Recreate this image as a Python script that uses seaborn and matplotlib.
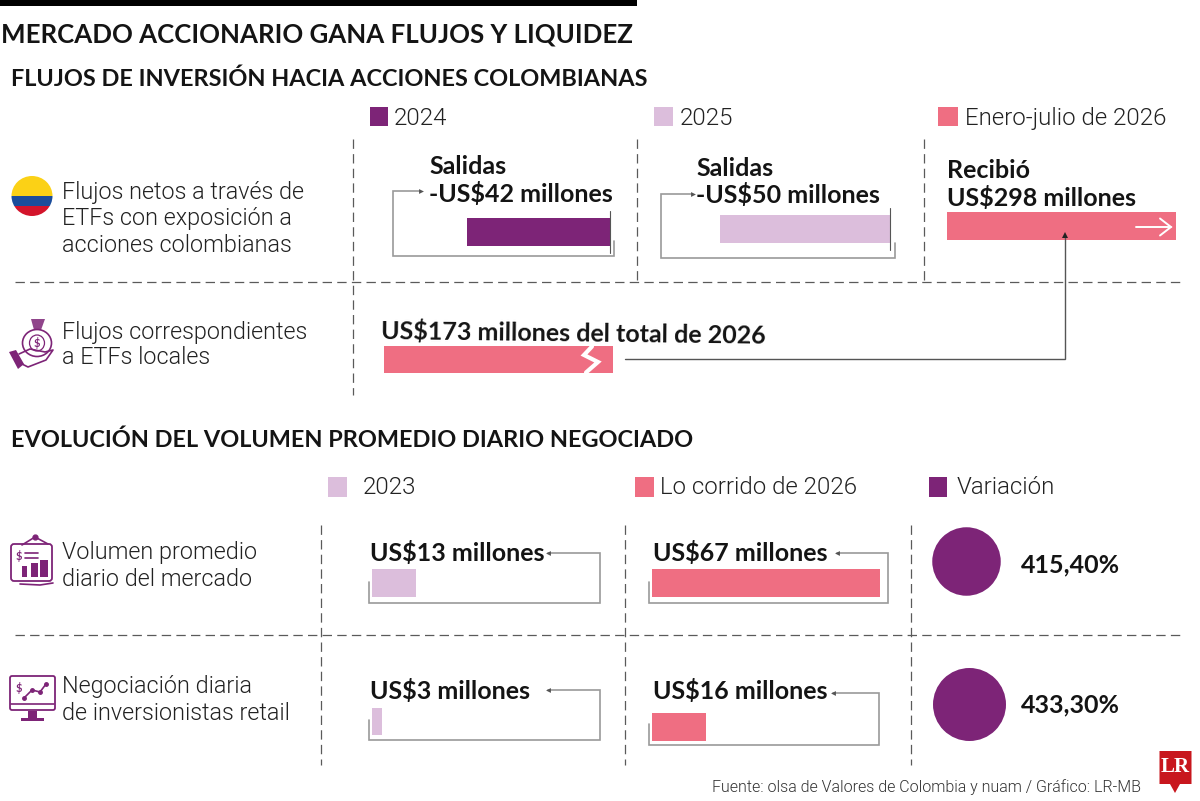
import matplotlib
matplotlib.use("Agg")
import matplotlib.pyplot as plt
import seaborn as sns
from matplotlib.patches import Rectangle, Ellipse, Polygon, FancyBboxPatch

sns.set_theme(style="white")
plt.rcParams["font.family"] = ["Lato", "DejaVu Sans"]

# ---- data (US$ millions) ----
FLOW_PERIODS = ["2024", "2025", "Enero-julio de 2026"]
FLOW_VALUES = [-42, -50, 298]
LOCAL_ETF_VALUE = 173
VOLUME_PERIODS = ["2023", "Lo corrido de 2026", "Variación"]
MARKET_VOLUME = [13, 67]
RETAIL_VOLUME = [3, 16]
VARIATION = [415.40, 433.30]
ROW_LABELS_FLOW = [["Flujos netos a través de", "ETFs con exposición a", "acciones colombianas"],
                   ["Flujos correspondientes", "a ETFs locales"]]
ROW_LABELS_VOL = [["Volumen promedio", "diario del mercado"],
                  ["Negociación diaria", "de inversionistas retail"]]

PURPLE, LILAC, PINK = "#7d2477", "#dcbedc", "#ef6e82"
INK, GREY, DARK = "#141414", "#9a9a9a", "#555555"
W, H = 1200, 801
PX_PER_UNIT = 3.4
WINDOW = 229

fig = plt.figure(figsize=(W / 100, H / 100), dpi=100, facecolor="white")
ov = fig.add_axes([0, 0, 1, 1], zorder=5)
ov.set_xlim(0, W); ov.set_ylim(H, 0); ov.axis("off"); ov.patch.set_alpha(0)


def bar(value, color, zero_px, top, bottom, name):
    left = zero_px - WINDOW if value < 0 else zero_px
    a = fig.add_axes([left / W, 1 - bottom / H, WINDOW / W, (bottom - top) / H], zorder=2)
    sns.barplot(x=[value], y=[name], color=color, saturation=1, width=1, linewidth=0, orient="h", ax=a)
    a.set_xlim((left - zero_px) / PX_PER_UNIT, (left + WINDOW - zero_px) / PX_PER_UNIT)
    a.set_ylim(0.5, -0.5)
    a.axis("off")
    a.patch.set_alpha(0)


def txt(x, y, s, size=18, weight="bold", color=INK, family=None, **kw):
    ov.text(x, y + 2, s, fontsize=size, fontweight=weight, color=color, va="center",
            ha=kw.pop("ha", "left"), family=family, **kw)


def line(xs, ys, color=GREY, lw=1.2, **kw):
    ov.plot(xs, ys, color=color, lw=lw, solid_joinstyle="miter", **kw)


def head(x, y, marker, color=DARK, ms=3.5):
    ov.plot([x], [y], marker=marker, ms=ms, color=color, mew=0, ls="none")


def dash(xs, ys):
    ov.plot(xs, ys, color="#5a5a5a", lw=0.9, dashes=(7.5, 4.2))


def swatch(x0, x1, y0, y1, color):
    ov.add_patch(Rectangle((x0, y0), x1 - x0, y1 - y0, fc=color, ec="none"))


# ---- headings ----
swatch(0, 637, 0, 6, "#000000")
txt(1, 32, "MERCADO ACCIONARIO GANA FLUJOS Y LIQUIDEZ", size=18.6)
txt(11, 77, "FLUJOS DE INVERSIÓN HACIA ACCIONES COLOMBIANAS", size=16.9)
txt(11, 438, "EVOLUCIÓN DEL VOLUMEN PROMEDIO DIARIO NEGOCIADO", size=16.9)

# ---- legends ----
LEG = dict(size=17.3, weight=300, family="Roboto", color="#222222")
swatch(370, 388, 107, 126, PURPLE); txt(394, 116.5, FLOW_PERIODS[0], **LEG)
swatch(654, 673, 107, 126, LILAC); txt(680, 116.5, FLOW_PERIODS[1], **LEG)
swatch(938, 958, 107, 126, PINK); txt(965, 116.5, FLOW_PERIODS[2], **LEG)
swatch(328, 347, 477, 497, LILAC); txt(363, 485.5, VOLUME_PERIODS[0], **LEG)
swatch(635, 654, 477, 497, PINK); txt(660, 485.5, VOLUME_PERIODS[1], **LEG)
swatch(929, 947, 477, 497, PURPLE); txt(957, 485.5, VOLUME_PERIODS[2], **LEG)

# ---- dashed grid ----
dash([353, 353], [139, 395])
dash([637, 637], [139, 280])
dash([924, 924], [139, 280])
dash([15, 1185], [282, 282])
dash([321, 321], [525, 765])
dash([625, 625], [525, 765])
dash([911, 911], [525, 765])
dash([15, 1185], [635, 635])

# ---- row labels ----
ROW = dict(size=16.8, weight=300, family="Roboto", color="#222222")
for y, s in zip([190, 217, 243], ROW_LABELS_FLOW[0]):
    txt(62, y, s, **ROW)
for y, s in zip([330, 356], ROW_LABELS_FLOW[1]):
    txt(62, y, s, **ROW)
for y, s in zip([551, 577], ROW_LABELS_VOL[0]):
    txt(62, y, s, **ROW)
for y, s in zip([685, 712], ROW_LABELS_VOL[1]):
    txt(62, y, s, **ROW)

# ---- flow bars ----
bar(FLOW_VALUES[0], PURPLE, 610, 218, 245.5, FLOW_PERIODS[0])
bar(FLOW_VALUES[1], LILAC, 890, 215, 243, FLOW_PERIODS[1])
bar(FLOW_VALUES[2], PINK, 947, 212, 240, FLOW_PERIODS[2])
bar(LOCAL_ETF_VALUE, PINK, 384, 346, 373, "ETF locales")

VAL = dict(size=18)
txt(429, 165, "Salidas", **VAL)
txt(429, 192, f"-US${abs(FLOW_VALUES[0])} millones", **VAL)
txt(696, 166, "Salidas", **VAL)
txt(696, 193, f"-US${abs(FLOW_VALUES[1])} millones", **VAL)
txt(947, 169, "Recibió", **VAL)
txt(947, 196, f"US${FLOW_VALUES[2]} millones", **VAL)
txt(381, 329.5, f"US${LOCAL_ETF_VALUE} millones del total de 2026", rotation=-0.7,
    rotation_mode="anchor", **VAL)

# brackets of the flow row
line([420, 393, 393, 614, 614], [190.7, 190.7, 255.7, 255.7, 240.7])
head(421, 190.7, ">")
line([609.5, 609.5], [210.7, 252.7], color=DARK, lw=0.8)
line([692, 660.5, 660.5, 894.7, 894.7], [193.7, 193.7, 258, 258, 243])
head(693, 193.7, ">")
line([890, 890], [207.7, 250], color=DARK, lw=0.8)
line([624.5, 1065, 1065], [359, 359, 236], color=DARK, lw=1.0)
head(1065, 235, "^", color="#222222", ms=5)
# white arrow inside the 2026 bar
line([1136, 1171], [227, 227], color="white", lw=1.4)
line([1160, 1171, 1160], [218.5, 227, 235.5], color="white", lw=1.4)
# break mark of the truncated bar
line([592, 584, 598, 586], [346.5, 355, 362, 372.5], color="white", lw=3)

# ---- volume bars ----
bar(MARKET_VOLUME[0], LILAC, 372, 569.3, 596.7, VOLUME_PERIODS[0])
bar(MARKET_VOLUME[1], PINK, 652, 569.3, 596.7, VOLUME_PERIODS[1])
bar(RETAIL_VOLUME[0], LILAC, 372, 707.7, 735, VOLUME_PERIODS[0])
bar(RETAIL_VOLUME[1], PINK, 652, 713.3, 740.7, VOLUME_PERIODS[1])

txt(370, 551.5, f"US${MARKET_VOLUME[0]} millones", **VAL)
txt(653, 551.5, f"US${MARKET_VOLUME[1]} millones", **VAL)
txt(370, 689, f"US${RETAIL_VOLUME[0]} millones", **VAL)
txt(653, 689, f"US${RETAIL_VOLUME[1]} millones", **VAL)

line([548, 599.5, 599.5, 368.5, 368.5], [552.7, 552.7, 602.7, 602.7, 581.7])
head(547.5, 552.7, "<")
line([548, 599.5, 599.5, 368.5, 368.5], [690, 690, 739.7, 739.7, 720])
head(547.5, 690, "<")
line([837, 887.5, 887.5, 648.5, 648.5], [553, 553, 603, 603, 581.7])
head(836.5, 553, "<")
line([833, 879, 879, 648.5, 648.5], [692.7, 692.7, 745.3, 745.3, 724])
head(832.5, 692.7, "<")

# ---- variation dots ----
DOT_DIAM_PX = [68.5, 73]
DOT_CENTRES = [(966, 561), (968.5, 703.5)]
for (cx, cy), d, v in zip(DOT_CENTRES, DOT_DIAM_PX, VARIATION):
    sns.scatterplot(x=[cx], y=[cy], s=(d * 0.72) ** 2, color=PURPLE, linewidth=0, legend=False, ax=ov)
ov.set_xlim(0, W); ov.set_ylim(H, 0); ov.set_xlabel(""); ov.set_ylabel("")
txt(1021, 563, f"{VARIATION[0]:.2f}%".replace(".", ","), **VAL)
txt(1021, 703, f"{VARIATION[1]:.2f}%".replace(".", ","), **VAL)

# ---- footer and logo ----
txt(712, 785, "Fuente: olsa de Valores de Colombia y nuam / Gráfico: LR-MB", size=11.55, weight=300, family="Roboto", color="#333333")
ov.add_patch(Polygon([(1159.5, 751), (1191.5, 751), (1191.5, 784), (1180, 784), (1175, 793), (1170, 784), (1159.5, 784)],
                     fc="#c8161d", ec="none"))
ov.text(1175.5, 767.5, "LR", fontsize=15, fontweight="bold", family="Liberation Serif", color="white", ha="center", va="center")

# ---- icons ----
# flag
clip = Ellipse((32, 196), 41, 40, transform=ov.transData)
for y0, y1, c in [(176, 196, "#fbd116"), (196, 206, "#1b4d9b"), (206, 216.5, "#d3142b")]:
    r = Rectangle((11, y0), 42, y1 - y0, fc=c, ec="none")
    ov.add_patch(r)
    r.set_clip_path(clip)
ICON = dict(color=PURPLE, lw=1.2, solid_joinstyle="round")
# money bag and hand
ov.add_patch(Ellipse((37, 343), 29, 27, fc="none", ec=PURPLE, lw=1.2))
ov.add_patch(Ellipse((37, 343), 15, 16, fc="none", ec=PURPLE, lw=0.9))
ov.text(37, 343, "$", fontsize=8, color=PURPLE, ha="center", va="center", fontweight="bold")
ov.add_patch(Polygon([(31, 319), (45, 319), (41, 330), (34, 330)], fc=PURPLE, ec="none", alpha=0.85))
ov.plot([19, 30, 45, 53, 46, 28, 22], [354, 349, 352, 350, 360, 367, 364], **ICON)
ov.add_patch(Polygon([(9, 352), (16, 350), (24, 364), (18, 369)], fc=PURPLE, ec="none"))
# board with bars
ov.add_patch(FancyBboxPatch((11, 544), 41, 37, boxstyle="round,pad=0,rounding_size=3", fc="none", ec=PURPLE, lw=1.3))
ov.plot([22, 35, 48], [545, 537, 544], **ICON)
ov.plot([35], [537], marker="o", ms=3.5, color=PURPLE)
swatch(22, 27, 566, 577, PURPLE); swatch(31, 38, 563, 577, PURPLE); swatch(40, 48, 560, 577, PURPLE)
ov.text(19, 556, "$", fontsize=8, color=PURPLE, ha="center", va="center", fontweight="bold")
ov.plot([25, 38], [553, 553], **ICON); ov.plot([25, 38], [558, 558], **ICON)
ov.plot([20, 40, 53], [584, 585, 583], **ICON)
# monitor
ov.add_patch(FancyBboxPatch((10, 676), 45, 34, boxstyle="round,pad=0,rounding_size=2", fc="none", ec=PURPLE, lw=1.3))
ov.plot([11, 54], [704, 704], **ICON)
swatch(28, 37, 711, 718, PURPLE); swatch(21, 44, 718, 721, PURPLE)
ov.plot([24, 32, 40, 46], [698, 690, 692, 684], marker="o", ms=2.5, **ICON)
ov.text(19, 688, "$", fontsize=8, color=PURPLE, ha="center", va="center", fontweight="bold")

fig.savefig("out.png", dpi=100, facecolor="white")
